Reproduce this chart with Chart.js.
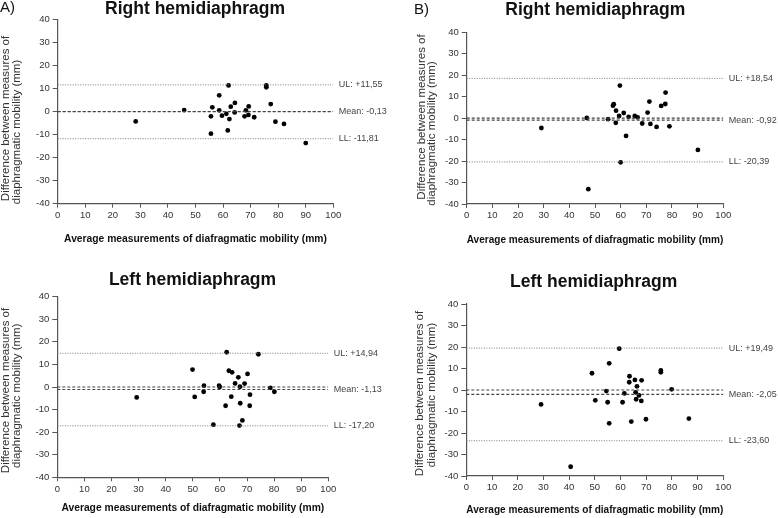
<!DOCTYPE html>
<html>
<head>
<meta charset="utf-8">
<script src="https://cdn.jsdelivr.net/npm/chart.js@4.4.1/dist/chart.umd.min.js"></script>
<style>
  body { margin: 0; background: #fff; }
  #wrap { position: relative; width: 778px; height: 518px; overflow: hidden; }
  .panel { position: absolute; width: 389px; height: 259px; }
</style>
</head>
<body>
<div id="wrap">
  <div class="panel" style="left:0;top:0"><canvas id="c0" width="389" height="259"></canvas></div>
  <div class="panel" style="left:389px;top:0"><canvas id="c1" width="389" height="259"></canvas></div>
  <div class="panel" style="left:0;top:259px"><canvas id="c2" width="389" height="259"></canvas></div>
  <div class="panel" style="left:389px;top:259px"><canvas id="c3" width="389" height="259"></canvas></div>
</div>
<script>
const FONT = "'Liberation Sans', Arial, sans-serif";

const panelLetters = ['A)', 'B)', '', ''];
const panelTitles = ['Right hemidiaphragm', 'Right hemidiaphragm', 'Left hemidiaphragm', 'Left hemidiaphragm'];
const yTitleLines = ['Difference between measures of', 'diaphragmatic mobility (mm)'];
const xTitle = 'Average measurements of diafragmatic mobility (mm)';

const xMin = 0, xMax = 100, xStep = 10;
const yMin = -40, yMax = 40, yStep = 10;

// A) right
const rightA_avg = [28.3, 45.9, 55.6, 55.6, 56.1, 58.6, 58.6, 59.6, 61.2, 61.7, 62.0, 62.3, 62.8, 64.2, 64.3, 67.8, 68.3, 69.2, 69.3, 71.3, 75.7, 75.7, 77.3, 79.0, 82.1, 90.0];
const rightA_diff = [-4.3, 0.6, -2.1, -9.6, 1.8, 7.0, 0.5, -1.8, -1.0, -8.2, 11.3, -3.3, 2.1, -0.4, 3.7, -2.1, 0.5, -1.5, 2.2, -2.5, 11.3, 10.5, 3.2, -4.4, -5.4, -13.7];
// B) right
const rightB_avg = [29.1, 46.8, 47.4, 55.1, 57.0, 57.3, 58.2, 58.1, 59.4, 59.7, 60.0, 61.2, 62.1, 63.1, 65.5, 66.6, 68.4, 70.5, 71.2, 71.6, 74.0, 75.8, 77.4, 77.5, 79.0, 90.1];
const rightB_diff = [-4.6, 0.1, -33.1, -0.5, 5.8, 6.5, 3.5, -2.2, 1.0, 15.2, -20.6, 2.4, -8.3, 0.6, 1.0, 0.4, -2.5, 2.6, 7.7, -2.7, -4.1, 5.7, 6.6, 11.9, -3.8, -14.8];
// A) left
const leftA_avg = [29.3, 49.9, 50.7, 54.1, 54.0, 57.6, 59.7, 59.9, 62.1, 62.5, 63.3, 64.5, 64.2, 65.6, 66.8, 67.4, 67.5, 67.2, 68.3, 69.1, 70.2, 71.1, 71.0, 74.2, 78.6, 80.1];
const leftA_diff = [-4.6, 7.7, -4.4, 0.6, -2.1, -16.7, 0.6, 0.0, -8.3, 15.4, 7.2, 6.5, -4.3, 1.6, 4.3, 0.1, -7.2, -17.1, -14.8, 1.5, 5.8, -3.4, -8.3, 14.5, -0.4, -2.1];
// B) left
const leftB_avg = [29.1, 40.6, 48.9, 50.2, 54.5, 55.0, 55.6, 55.6, 59.5, 60.8, 61.5, 63.4, 63.5, 64.2, 65.6, 65.9, 66.1, 66.4, 67.2, 68.1, 68.2, 69.9, 75.7, 75.7, 79.9, 86.6];
const leftB_diff = [-6.7, -35.7, 7.8, -4.8, -0.5, -5.7, 12.4, -15.5, 19.2, -5.7, -1.6, 3.6, 6.4, -14.7, 4.7, -1.1, -4.3, 1.7, -2.5, -5.1, 4.5, -13.6, 9.1, 8.2, 0.3, -13.3];

const avgSeries = [rightA_avg, rightB_avg, leftA_avg, leftB_avg];
const diffSeries = [rightA_diff, rightB_diff, leftA_diff, leftB_diff];
const meanValues = [-0.13, -0.92, -1.13, -2.05];
const upperLimits = [11.55, 18.54, 14.94, 19.49];
const lowerLimits = [-11.81, -20.39, -17.20, -23.60];

// where each panel sits inside its own 389x259 canvas
const layouts = [
  {left: 57.7, right: 333.3, top: 19.3, bottom: 203.7, titleX: 195, titleY: 9.5, letterX: 0, letterY: 8, yt1: [5.5, 118.5], yt2: [17, 132], xTitleY: 239.3},
  {left: 77.7, right: 334.3, top: 32.3, bottom: 204, titleX: 206.3, titleY: 10, letterX: 25, letterY: 10, yt1: [32.5, 117], yt2: [43, 133.5], xTitleY: 240},
  {left: 57.3, right: 328.3, top: 37.7, bottom: 218.3, titleX: 192.5, titleY: 21.3, letterX: 0, letterY: 0, yt1: [5.5, 131.5], yt2: [17.3, 136.7], xTitleY: 249.3},
  {left: 77.3, right: 334.3, top: 45, bottom: 217, titleX: 204.7, titleY: 23.3, letterX: 0, letterY: 0, yt1: [31, 134.5], yt2: [42.5, 136], xTitleY: 250.7}
];

function fmt(v, sign) {
  const s = Math.abs(v).toFixed(2).replace('.', ',');
  if (v < 0) return '-' + s;
  return (sign ? '+' : '') + s;
}

function hLine(y, color, dash, width) {
  return {
    type: 'line',
    data: [{x: xMin, y: y}, {x: xMax, y: y}],
    borderColor: color,
    borderDash: dash,
    borderWidth: width,
    pointRadius: 0,
    fill: false
  };
}

const panelText = {
  id: 'panelText',
  afterDraw(chart, args, opts) {
    const ctx = chart.ctx;
    const lay = opts.layout;
    const area = chart.chartArea;
    const y = chart.scales.y;
    ctx.save();
    ctx.fillStyle = '#111';

    // panel letter
    if (opts.letter) {
      ctx.font = '15px ' + FONT;
      ctx.textAlign = 'left';
      ctx.textBaseline = 'middle';
      ctx.fillText(opts.letter, lay.letterX, lay.letterY);
    }

    // title
    ctx.font = 'bold 17.5px ' + FONT;
    ctx.textAlign = 'center';
    ctx.textBaseline = 'middle';
    ctx.fillText(opts.title, lay.titleX, lay.titleY);

    // y axis title, two lines
    ctx.font = '11.5px ' + FONT;
    ctx.fillStyle = '#333';
    [lay.yt1, lay.yt2].forEach((p, i) => {
      ctx.save();
      ctx.translate(p[0], p[1]);
      ctx.rotate(-Math.PI / 2);
      ctx.fillText(yTitleLines[i], 0, 0);
      ctx.restore();
    });

    // limit labels right of the plot
    ctx.font = '9px ' + FONT;
    ctx.textAlign = 'left';
    ctx.fillStyle = '#444';
    const lx = area.right + 5.5;
    ctx.fillText('UL: ' + fmt(opts.ul, true), lx, y.getPixelForValue(opts.ul));
    ctx.fillText('Mean: ' + fmt(opts.mean, false), lx, y.getPixelForValue(opts.mean));
    ctx.fillText('LL: ' + fmt(opts.ll, false), lx, y.getPixelForValue(opts.ll));
    ctx.restore();
  }
};

function makeChart(i) {
  const lay = layouts[i];
  const points = avgSeries[i].map((x, k) => ({x: x, y: diffSeries[i][k]}));
  const canvas = document.getElementById('c' + i);

  new Chart(canvas, {
    type: 'scatter',
    data: {
      datasets: [
        hLine(upperLimits[i], '#777', [1, 1.5], 1),
        hLine(lowerLimits[i], '#777', [1, 1.5], 1),
        hLine(0, '#444', [3, 2], 1.1),
        hLine(meanValues[i], '#444', [3, 2], 1.1),
        {
          data: points,
          backgroundColor: '#000',
          borderColor: '#000',
          pointRadius: 2.4,
          pointBorderWidth: 0,
          showLine: false
        }
      ]
    },
    options: {
      responsive: false,
      animation: false,
      devicePixelRatio: 1,
      layout: {
        padding: {left: 0, top: lay.top, right: 389 - lay.right, bottom: 0}
      },
      plugins: {
        legend: {display: false},
        tooltip: {enabled: false},
        panelText: {
          layout: lay,
          letter: panelLetters[i],
          title: panelTitles[i],
          ul: upperLimits[i],
          ll: lowerLimits[i],
          mean: meanValues[i]
        }
      },
      scales: {
        x: {
          type: 'linear',
          min: xMin,
          max: xMax,
          afterFit(scale) { scale.height = 259 - lay.bottom; },
          ticks: {stepSize: xStep, color: '#333', padding: 2, font: {family: FONT, size: 9.5}},
          grid: {display: true, drawOnChartArea: false, drawTicks: true, tickLength: 4, color: '#555'},
          border: {display: true, color: '#555', width: 1.2},
          title: {
            display: true,
            text: xTitle,
            color: '#111',
            font: {family: FONT, size: 10.3, weight: 'bold'},
            padding: {top: 0, bottom: 259 - lay.xTitleY - 6.2}
          }
        },
        y: {
          type: 'linear',
          min: yMin,
          max: yMax,
          afterFit(scale) { scale.width = lay.left; },
          ticks: {stepSize: yStep, color: '#333', padding: 3, font: {family: FONT, size: 9.5}},
          grid: {display: true, drawOnChartArea: false, drawTicks: true, tickLength: 5, color: '#555'},
          border: {display: true, color: '#555', width: 1.2}
        }
      }
    },
    plugins: [panelText]
  });
}

for (let i = 0; i < 4; i++) makeChart(i);
</script>
</body>
</html>
